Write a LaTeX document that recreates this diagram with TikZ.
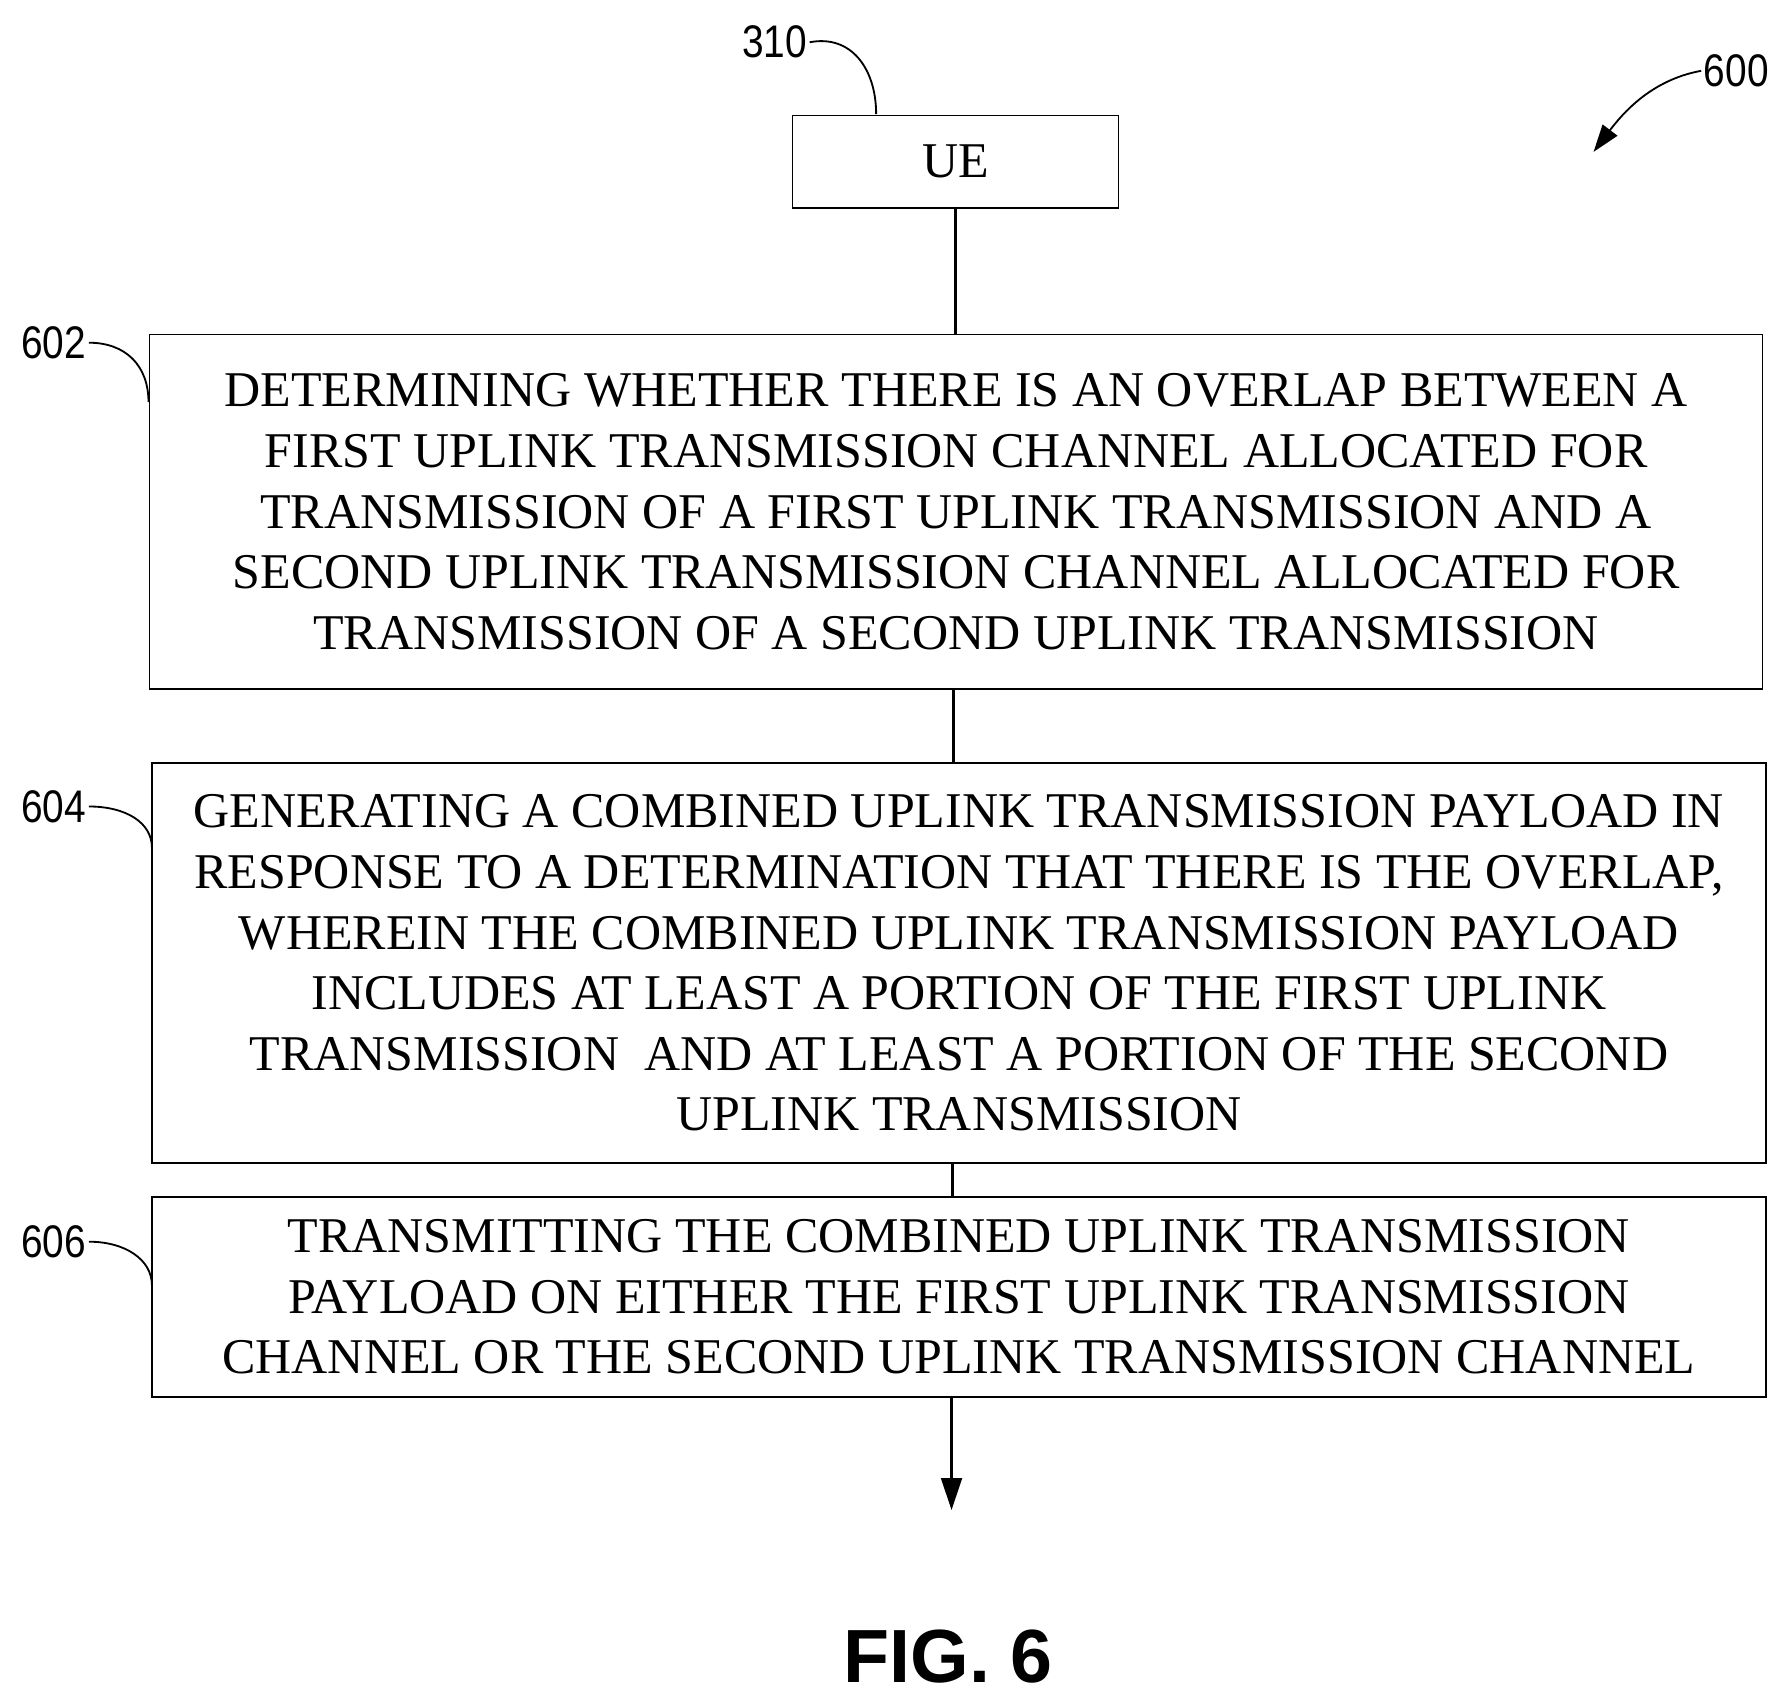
\documentclass[tikz,border=0pt]{standalone}
\usepackage{fontspec}
\setmainfont{Liberation Serif}
\newfontfamily\labelfont[FakeStretch=0.85]{Liberation Sans}
\newfontfamily\figfont{Liberation Sans}
\usetikzlibrary{arrows.meta}
\tikzset{
  stepbox/.style={draw, line width=0.6pt, align=center, inner sep=0pt,
    font=\fontsize{21.9}{26.5}\selectfont},
  reflabel/.style={font=\labelfont\fontsize{20}{20}\selectfont, inner sep=1pt},
  flow/.style={line width=1.4pt},
  leader/.style={line width=0.8pt}
}
\begin{document}
\begin{tikzpicture}[x=0.5pt,y=-0.5pt]
\useasboundingbox (0,0) rectangle (1560,1489);

%Boxes
\node[stepbox, minimum width=142.5pt, minimum height=40.5pt] (ue) at (836.5,141.5) {UE};
\node[stepbox, minimum width=706pt, minimum height=155pt] (s602) at (837,448)
  {DETERMINING WHETHER THERE IS AN OVERLAP BETWEEN A\\
   FIRST UPLINK TRANSMISSION CHANNEL ALLOCATED FOR\\
   TRANSMISSION OF A FIRST UPLINK TRANSMISSION AND A\\
   SECOND UPLINK TRANSMISSION CHANNEL ALLOCATED FOR\\
   TRANSMISSION OF A SECOND UPLINK TRANSMISSION};
\node[stepbox, minimum width=706.5pt, minimum height=175pt] (s604) at (839.5,843)
  {GENERATING A COMBINED UPLINK TRANSMISSION PAYLOAD IN\\
   RESPONSE TO A DETERMINATION THAT THERE IS THE OVERLAP,\\
   WHEREIN THE COMBINED UPLINK TRANSMISSION PAYLOAD\\
   INCLUDES AT LEAST A PORTION OF THE FIRST UPLINK\\
   TRANSMISSION\ \ AND AT LEAST A PORTION OF THE SECOND\\
   UPLINK TRANSMISSION};
\node[stepbox, minimum width=706.5pt, minimum height=87.5pt] (s606) at (839.5,1135.5)
  {TRANSMITTING THE COMBINED UPLINK TRANSMISSION\\
   PAYLOAD ON EITHER THE FIRST UPLINK TRANSMISSION\\
   CHANNEL OR THE SECOND UPLINK TRANSMISSION CHANNEL};
\coordinate (end) at (833,1322);

%Connectors
\draw[flow] (ue.south) -- (ue.south |- s602.north);
\draw[flow] (835,603) -- (835,668);
\draw[flow] (834,1018) -- (834,1048);
\draw[flow, -{Triangle[length=14pt,width=9pt]}] (833,1223) -- (end);

%Reference labels
\node[reflabel] (l310) at (678,37) {310};
\draw[leader] (l310.east) .. controls (745,30) and (767,60) .. (767,100);
\node[reflabel] (l600) at (1520,62) {600};
\draw[leader, -{Triangle[length=12pt,width=8pt]}] (l600.west) .. controls (1445,70) and (1420,100) .. (1395,133);
\node[reflabel] (l602) at (47,300) {602};
\draw[leader] (l602.east) .. controls (110,300) and (130,320) .. (130,352);
\node[reflabel] (l604) at (47,706) {604};
\draw[leader] (l604.east) .. controls (110,706) and (133,720) .. (133,742);
\node[reflabel] (l606) at (47,1087) {606};
\draw[leader] (l606.east) .. controls (110,1087) and (133,1103) .. (133,1125);

\node[font=\figfont\bfseries\fontsize{33}{33}\selectfont] (fig) at (830,1450) {FIG. 6};
\end{tikzpicture}
\end{document}
